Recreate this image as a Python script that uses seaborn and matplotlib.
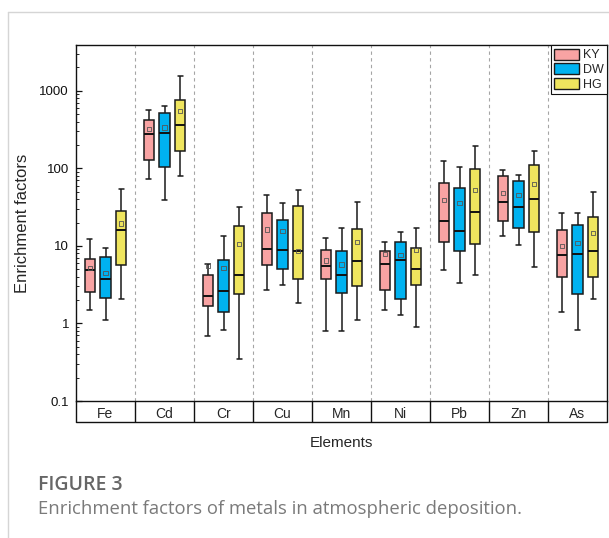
import numpy as np
import pandas as pd
import matplotlib
matplotlib.use("Agg")
import matplotlib.pyplot as plt
import seaborn as sns
from matplotlib.patches import Patch
from matplotlib.lines import Line2D
from matplotlib.ticker import FixedLocator, FixedFormatter, LogLocator, NullFormatter

# 数据：元素与采样点
elements = ["Fe", "Cd", "Cr", "Cu", "Mn", "Ni", "Pb", "Zn", "As"]
sites = ["KY", "DW", "HG"]

# 箱线图五数（下须、Q1、中位数、Q3、上须）与均值，按站点分组
ky_low = [1.5, 74, 0.68, 2.7, 0.81, 1.5, 4.9, 13.3, 1.42]
ky_q1 = [2.55, 128, 1.66, 5.75, 3.75, 2.67, 11.1, 21, 4.0]
ky_med = [4.85, 274, 2.28, 9.25, 5.46, 5.9, 20.7, 37, 7.7]
ky_q3 = [6.7, 423, 4.18, 26.8, 8.8, 8.5, 64, 79, 16]
ky_high = [12.4, 565, 5.8, 45, 12.7, 11.3, 124, 94, 26.5]
ky_mean = [5.2, 320, 5.6, 16.3, 6.5, 7.9, 39, 48.6, 9.9]

dw_low = [1.11, 39, 0.82, 3.14, 0.81, 1.28, 3.36, 10.4, 0.82]
dw_q1 = [2.13, 105, 1.39, 5.1, 2.44, 2.07, 8.6, 16.8, 2.4]
dw_med = [3.79, 282, 2.59, 8.8, 4.18, 6.67, 15.4, 31.7, 7.9]
dw_q3 = [7.14, 516, 6.6, 21.8, 8.6, 11.3, 55.8, 68.7, 18.4]
dw_high = [9.45, 635, 13.6, 35.4, 16.9, 15.2, 104, 82, 26.3]
dw_mean = [4.5, 337, 5.2, 15.5, 5.75, 7.7, 36, 44.9, 11]

hg_low = [2.05, 79, 0.35, 1.84, 1.12, 0.89, 4.2, 5.37, 2.05]
hg_q1 = [5.7, 168, 2.37, 3.79, 3.01, 3.17, 10.5, 15, 3.94]
hg_med = [16, 358, 4.27, 8.7, 6.4, 5.06, 27, 40.6, 8.5]
hg_q3 = [28.1, 753, 18, 32.4, 16.6, 9.5, 99, 110, 23.5]
hg_high = [54, 1540, 32, 53, 36.4, 16.8, 195, 166, 50]
hg_mean = [19.5, 553, 10.6, 8.7, 11.2, 8.8, 52, 63.6, 14.8]

stats = {
    "KY": [ky_low, ky_q1, ky_med, ky_q3, ky_high],
    "DW": [dw_low, dw_q1, dw_med, dw_q3, dw_high],
    "HG": [hg_low, hg_q1, hg_med, hg_q3, hg_high],
}
means = {"KY": ky_mean, "DW": dw_mean, "HG": hg_mean}

y_ticks = [0.1, 1, 10, 100, 1000]
y_tick_labels = ["0.1", "1", "10", "100", "1000"]

colors = {"KY": "#F8A3A3", "DW": "#00B2F0", "HG": "#EFE55E"}

# 五个点的四分位数正好等于给定的五数
rows = []
for s in sites:
    for i, el in enumerate(elements):
        for arr in stats[s]:
            rows.append({"Element": el, "Site": s, "EF": arr[i]})
df = pd.DataFrame(rows)

mean_rows = []
for s in sites:
    for i, el in enumerate(elements):
        mean_rows.append({"Element": el, "Site": s, "EF": means[s][i]})
df_mean = pd.DataFrame(mean_rows)

sns.set_theme(style="ticks")
plt.rcParams["font.family"] = ["Liberation Sans", "DejaVu Sans"]

fig = plt.figure(figsize=(6.09, 5.38), dpi=100)
ax = fig.add_axes([76 / 609, 137 / 538, 531 / 609, 356 / 538])

sns.boxplot(
    data=df, x="Element", y="EF", hue="Site",
    order=elements, hue_order=sites, palette=colors,
    whis=(0, 100), width=0.8, gap=0.36, saturation=1,
    linecolor="#1a1a1a", linewidth=1.1, log_scale=True,
    medianprops={"color": "#111111", "linewidth": 1.4},
    legend=False, ax=ax,
)

n_before = len(ax.collections)
sns.stripplot(
    data=df_mean, x="Element", y="EF", hue="Site",
    order=elements, hue_order=sites, palette=colors,
    dodge=True, jitter=False, marker="s", size=3.0,
    legend=False, ax=ax,
)
for coll in ax.collections[n_before:]:
    coll.set_facecolor("none")
    coll.set_edgecolor("#555555")
    coll.set_linewidth(0.6)

ax.set_xlim(-0.5, len(elements) - 0.5)
ax.set_ylim(0.1, 3900)

# 分隔虚线
for k in range(len(elements) - 1):
    ax.axvline(k + 0.5, color="#a5a5a5", linestyle=(0, (3, 3)), linewidth=0.8, zorder=0)

# y 轴刻度
ax.yaxis.set_major_locator(FixedLocator(y_ticks))
ax.yaxis.set_major_formatter(FixedFormatter(y_tick_labels))
ax.yaxis.set_minor_locator(LogLocator(base=10, subs=np.arange(2, 10)))
ax.yaxis.set_minor_formatter(NullFormatter())
ax.tick_params(axis="y", which="major", direction="in", length=4, width=0.9,
               labelsize=9.5, pad=5, colors="#111111")
ax.tick_params(axis="y", which="minor", direction="in", length=2, width=0.7)

# x 轴：表格式类别行
ax.tick_params(axis="x", which="major", length=0, labelsize=10, pad=4)
ax.xaxis.set_minor_locator(FixedLocator(np.arange(len(elements) + 1) - 0.5))
ax.tick_params(axis="x", which="minor", direction="out", length=15.1, width=1.0, color="#111111")
ax.plot([-0.5, len(elements) - 0.5], [-21 / 356, -21 / 356], color="#111111", linewidth=1.0,
        transform=ax.get_xaxis_transform(), clip_on=False)

for sp in ax.spines.values():
    sp.set_color("#111111")
    sp.set_linewidth(1.0)

ax.set_xlabel("Elements", fontsize=11, labelpad=7)
ax.set_ylabel("Enrichment factors", fontsize=12, labelpad=7)

handles = [Patch(facecolor=colors[s], edgecolor="#1a1a1a", linewidth=1.0, label=s) for s in sites]
leg = ax.legend(handles=handles, loc="upper right", fontsize=9, frameon=True, fancybox=False,
                edgecolor="#111111", framealpha=1, borderaxespad=0.0, borderpad=0.3,
                handlelength=2.0, handleheight=0.95, handletextpad=0.25, labelspacing=0.15)
leg.get_frame().set_linewidth(0.8)

# 图注
fig.text(38 / 609, 1 - 485 / 538, "FIGURE 3", fontsize=14, fontweight="semibold",
         color="#666666", family=["Open Sans", "DejaVu Sans"], va="center", ha="left")
fig.text(38 / 609, 1 - 509 / 538, "Enrichment factors of metals in atmospheric deposition.",
         fontsize=13.3, color="#7a7a7a", family=["Open Sans", "DejaVu Sans"], va="center", ha="left")

# 外框线
fig.add_artist(Line2D([8 / 609, 1], [1 - 12 / 538, 1 - 12 / 538], color="#d5d5d5", linewidth=1.0))
fig.add_artist(Line2D([8 / 609, 8 / 609], [0, 1 - 12 / 538], color="#d5d5d5", linewidth=1.0))

fig.savefig("out.png", dpi=100)
plt.close("all")
